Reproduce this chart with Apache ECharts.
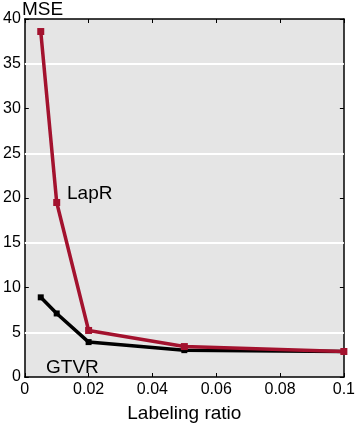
<!DOCTYPE html>
<html>
<head>
<meta charset="utf-8">
<script src="https://cdn.jsdelivr.net/npm/echarts@6/dist/echarts.min.js"></script>
<style>
  html, body { margin: 0; padding: 0; background: #fff; }
  #chart { width: 358px; height: 428px; }
</style>
</head>
<body>
<div id="chart"></div>
<script>
// labeling ratios and MSE values
const ratios = [0.005, 0.01, 0.02, 0.05, 0.1]
const lapR = [38.6, 19.5, 5.2, 3.4, 2.85]
const gtvR = [8.9, 7.1, 3.9, 3.0, 2.85]
const seriesNames = ['GTVR', 'LapR']
// white grid lines only show up at these levels in the original
const gridLevels = [5, 15, 25, 35]

const font = 'Liberation Sans, Arial, Helvetica, sans-serif'
const red = '#a3122e'

const chart = echarts.init(document.getElementById('chart'))

const pairs = (xs, ys) => xs.map((x, i) => [x, ys[i]])

const tickStyle = { show: true, inside: true, length: 4, lineStyle: { color: '#000', width: 1 } }
const lineStyle = { show: true, onZero: false, lineStyle: { color: '#000', width: 1.5 } }

chart.setOption({
  animation: false,
  grid: {
    left: 21, right: 9, top: 19, bottom: 40,
    show: true, backgroundColor: '#e5e5e5', borderWidth: 0
  },
  xAxis: [{
    type: 'value', min: 0, max: 0.1, interval: 0.02,
    position: 'bottom',
    name: 'Labeling ratio', nameLocation: 'middle', nameGap: 27,
    nameTextStyle: { fontFamily: font, fontSize: 19, color: '#000' },
    axisLine: lineStyle, axisTick: tickStyle,
    axisLabel: { fontFamily: font, fontSize: 16, color: '#000', margin: 5 },
    splitLine: { show: false }
  }, {
    type: 'value', min: 0, max: 0.1, interval: 0.02,
    position: 'top',
    axisLine: lineStyle, axisTick: tickStyle,
    axisLabel: { show: false }, splitLine: { show: false }
  }],
  yAxis: [{
    type: 'value', min: 0, max: 40, interval: 5,
    position: 'left',
    axisLine: lineStyle, axisTick: tickStyle,
    axisLabel: { fontFamily: font, fontSize: 16, color: '#000', margin: 4 },
    splitLine: { show: false }
  }, {
    type: 'value', min: 0, max: 40, interval: 5,
    position: 'right',
    axisLine: lineStyle, axisTick: tickStyle,
    axisLabel: { show: false }, splitLine: { show: false }
  }],
  series: [{
    name: 'grid', type: 'line', data: [], z: 1, silent: true,
    markLine: {
      z: 1, silent: true, symbol: 'none', label: { show: false },
      lineStyle: { color: '#ffffff', width: 2, type: 'solid' },
      data: gridLevels.map(v => ({ yAxis: v }))
    }
  }, {
    name: seriesNames[0], type: 'line', z: 3,
    data: pairs(ratios, gtvR),
    symbol: 'rect', symbolSize: 6,
    lineStyle: { color: '#000', width: 3.5 },
    itemStyle: { color: '#000' }
  }, {
    name: seriesNames[1], type: 'line', z: 4,
    data: pairs(ratios, lapR),
    symbol: 'rect', symbolSize: 7,
    lineStyle: { color: red, width: 3.5 },
    itemStyle: { color: red }
  }],
  graphic: [
    { type: 'text', left: 22, top: 0, style: { text: 'MSE', font: '19px ' + font, fill: '#000' } },
    { type: 'text', left: 67, top: 184, style: { text: seriesNames[1], font: '19px ' + font, fill: '#000' } },
    { type: 'text', left: 46, top: 358, style: { text: seriesNames[0], font: '19px ' + font, fill: '#000' } }
  ]
})
</script>
</body>
</html>
